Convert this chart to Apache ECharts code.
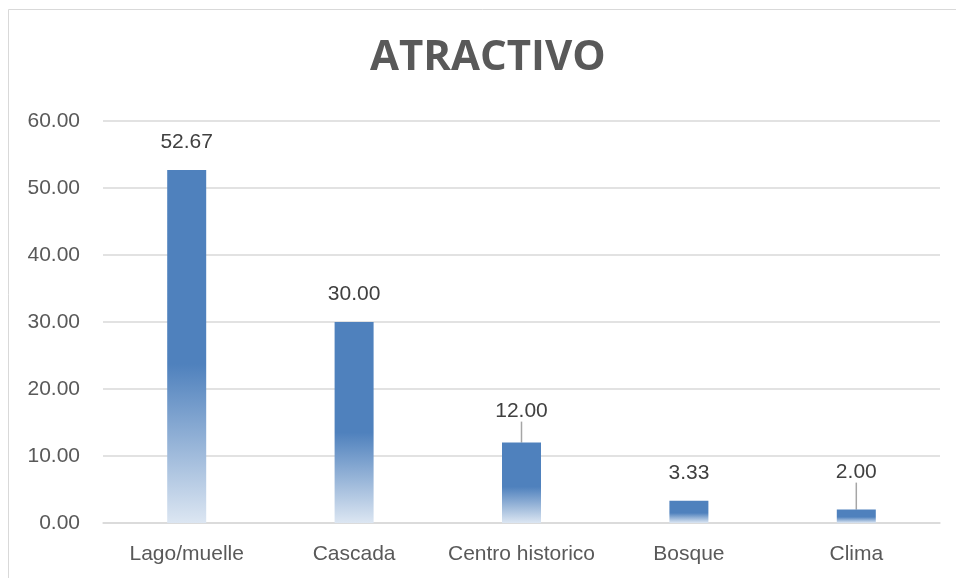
<!DOCTYPE html>
<html>
<head>
<meta charset="utf-8">
<script src="https://cdn.jsdelivr.net/npm/echarts@6/dist/echarts.min.js"></script>
<style>
  html, body { margin: 0; padding: 0; background: #fff; }
  #chart { width: 956px; height: 578px; }
</style>
</head>
<body>
<div id="chart"></div>
<script>
var categories = ["Lago/muelle", "Cascada", "Centro historico", "Bosque", "Clima"];
var values = [52.67, 30.00, 12.00, 3.33, 2.00];
// extra lift of the label (px) where the source chart draws a leader line
var labelLift = [0, 0, 4, 0, 10];

var chart = echarts.init(document.getElementById("chart"));

var barColor = new echarts.graphic.LinearGradient(0, 0, 0, 1, [
  { offset: 0, color: "#4f81bd" },
  { offset: 0.55, color: "#4f81bd" },
  { offset: 1, color: "#dce6f2" }
]);

var seriesData = values.map(function (v, i) {
  var item = { value: v };
  if (labelLift[i]) {
    item.labelLine = { show: true, lineStyle: { color: "#a6a6a6", width: 1.5 } };
  }
  return item;
});

chart.setOption({
  backgroundColor: "#fff",
  animation: false,
  title: {
    text: "ATRACTIVO",
    left: 365,
    top: 32,
    textStyle: {
      fontFamily: "Open Sans",
      fontWeight: "bold",
      fontSize: 42,
      color: "#595959"
    }
  },
  graphic: [
    {
      type: "rect",
      shape: { x: 8.5, y: 9.5, width: 1000, height: 1000 },
      style: { fill: "none", stroke: "#d9d9d9", lineWidth: 1 },
      silent: true
    }
  ],
  grid: { left: 103, right: 16, top: 121, bottom: 55 },
  xAxis: {
    type: "category",
    data: categories,
    axisLine: { lineStyle: { color: "#d9d9d9", width: 1.5 } },
    axisTick: { show: false },
    axisLabel: {
      interval: 0,
      fontFamily: "Liberation Sans",
      fontSize: 21,
      color: "#595959",
      margin: 21
    }
  },
  yAxis: {
    type: "value",
    min: 0,
    max: 60,
    interval: 10,
    axisLine: { show: false },
    axisTick: { show: false },
    splitLine: { lineStyle: { color: "#d9d9d9", width: 1.5 } },
    axisLabel: {
      fontFamily: "Liberation Sans",
      fontSize: 21,
      color: "#595959",
      margin: 23,
      formatter: function (v) { return v.toFixed(2); }
    }
  },
  series: [
    {
      type: "bar",
      data: seriesData,
      barWidth: 39,
      itemStyle: { color: barColor },
      label: {
        show: true,
        position: "top",
        distance: 17,
        fontFamily: "Liberation Sans",
        fontSize: 21,
        color: "#404040",
        formatter: function (p) { return p.value.toFixed(2); }
      },
      labelLayout: function (p) {
        return { dy: -labelLift[p.dataIndex] };
      }
    }
  ]
});
</script>
</body>
</html>
